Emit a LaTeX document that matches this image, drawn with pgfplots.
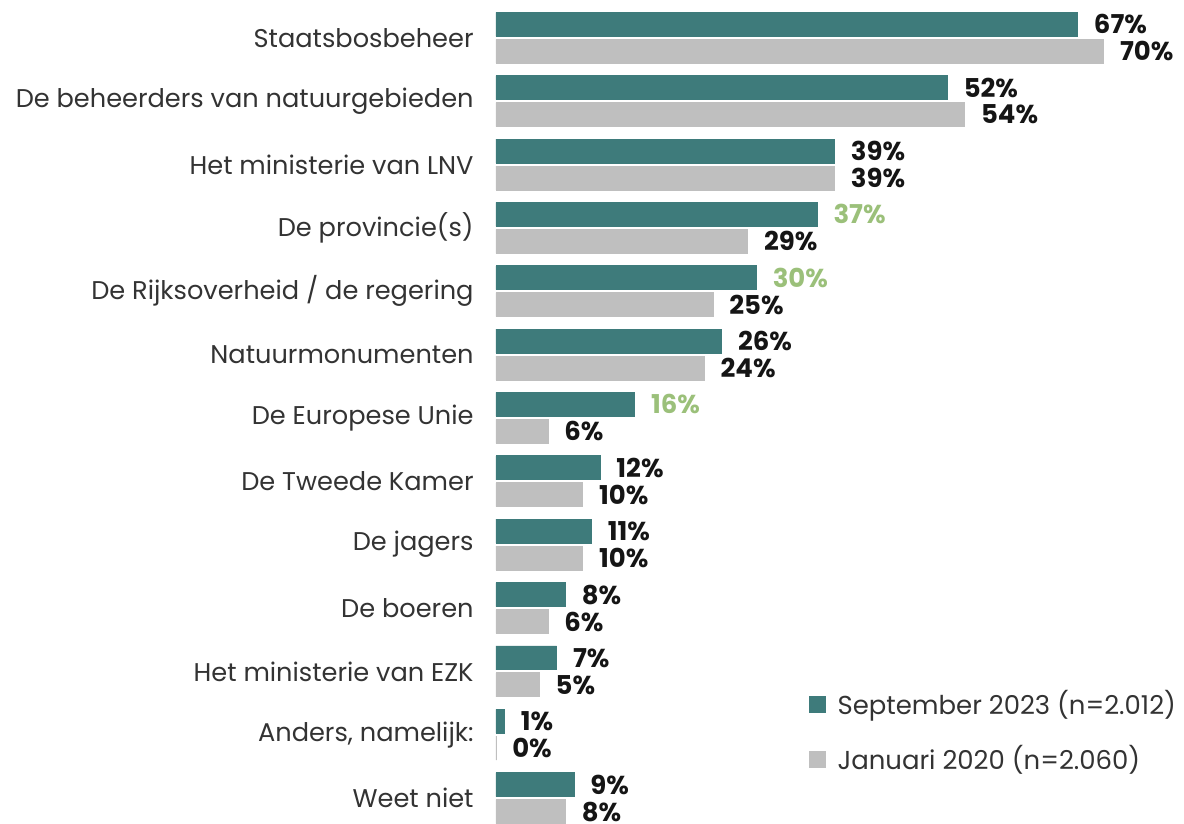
\documentclass[border=0pt]{standalone}
\usepackage{pgfplots}
\pgfplotsset{compat=1.18}
\usepackage{pgfplotstable}
\usepackage{fontspec}
\setmainfont{Poppins}
\definecolor{tealc}{HTML}{3E7B7B}
\definecolor{grayc}{HTML}{BFBFBF}
\definecolor{sigc}{HTML}{9BC07A}
\definecolor{txt}{HTML}{333333}
\definecolor{valc}{HTML}{151515}

\pgfplotstableread{
idx sep jan sig
0 67 70 0
1 52 54 0
2 39 39 0
3 37 29 1
4 30 25 1
5 26 24 0
6 16 6 1
7 12 10 0
8 11 10 0
9 8 6 0
10 7 5 0
11 1 0 0
12 9 8 0
}\data

\begin{document}
\begin{tikzpicture}
\begin{axis}[
  xbar,
  scale only axis,
  width=343.5pt, height=410.8pt,
  xmin=0, xmax=78.96,
  ymin=-0.59, ymax=12.35,
  y dir=reverse,
  clip=false,
  /pgf/number format/assume math mode=true,
  axis line style={draw=none},
  xtick=\empty,
  ytick={0,...,12},
  yticklabels={Staatsbosbeheer, De beheerders van natuurgebieden, Het ministerie van LNV, De provincie(s), De Rijksoverheid / de regering, Natuurmonumenten, De Europese Unie, De Tweede Kamer, De jagers, De boeren, Het ministerie van EZK, {Anders, namelijk:}, Weet niet},
  major tick length=0pt,
  yticklabel style={font=\fontsize{12.85}{14}\selectfont, color=txt, inner sep=0pt, xshift=-11pt},
  bar width=12pt,
  nodes near coords style={font=\bfseries\fontsize{13}{15}\selectfont, color=valc, anchor=west, inner sep=0pt, xshift=8pt},
  legend cell align=left,
  legend style={at={(axis cs:35.3,10.95)}, anchor=west, draw=none, fill=none,
    font=\fontsize{13}{15}\selectfont, text=txt, row sep=12pt,
    nodes={inner sep=1pt},
    /tikz/every odd column/.append style={column sep=5pt}},
]
\addplot[fill=tealc, draw=tealc, line width=0.4pt, bar shift=6.75pt,
  visualization depends on={\thisrow{sig}\as\sig},
  nodes near coords={\ifdim\sig pt>0.5pt \color{sigc}\fi\pgfmathprintnumber{\pgfplotspointmeta}\%},
  legend image code/.code={\fill[tealc] (0pt,-4pt) rectangle (8pt,4pt);}]
  table[x=sep, y=idx]{\data};
\addlegendentry{September 2023 (n=2.012)}
\addplot[fill=grayc, draw=grayc, line width=0.4pt, bar shift=-6.75pt,
  nodes near coords={\pgfmathprintnumber{\pgfplotspointmeta}\%},
  legend image code/.code={\fill[grayc] (0pt,-4pt) rectangle (8pt,4pt);}]
  table[x=jan, y=idx]{\data};
\addlegendentry{Januari 2020 (n=2.060)}
\coordinate (BL) at (axis cs:0,12.35);
\end{axis}
\path (BL) ++(-248.5pt,0) rectangle ++(592pt,411pt);
\end{tikzpicture}
\end{document}
